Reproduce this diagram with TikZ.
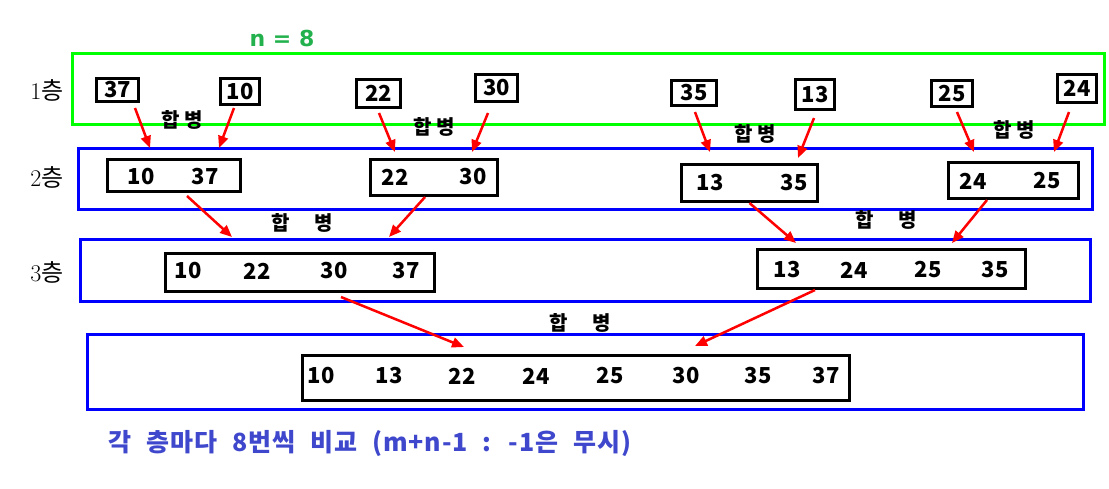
\documentclass[tikz,border=0pt]{standalone}
\usepackage{fontspec}
\newfontfamily\kr{Noto Sans CJK KR}
\newfontfamily\krwide[LetterSpace=4,WordSpace=2.2]{Noto Sans CJK KR}
\newfontfamily\dvs{DejaVu Sans}
\usetikzlibrary{arrows.meta}
\definecolor{paintgreen}{RGB}{34,177,76}
\definecolor{paintindigo}{RGB}{63,72,204}
\tikzset{
  layerbox/.style={draw=blue,line width=3pt,inner sep=0pt},
  numbox/.style={draw=black,line width=3pt,inner sep=0pt,
    font=\kr\bfseries\fontsize{22}{22}\selectfont},
  num/.style={inner sep=0pt,font=\kr\bfseries\fontsize{22}{22}\selectfont},
  mergelabel/.style={inner sep=0pt,font=\kr\bfseries\fontsize{20}{20}\selectfont},
  layerlabel/.style={inner sep=0pt,font=\fontsize{24}{24}\selectfont},
  mergearrow/.style={draw=red,line width=2.5pt,-{Triangle[length=12pt,width=10pt]}}
}
\begin{document}
\begin{tikzpicture}[x=1pt,y=-1pt]
\useasboundingbox (0,0) rectangle (1109,488);

% layers
\node[draw=green,line width=3pt,minimum width=1032pt,minimum height=71pt] (layer1) at (588.5,89) {};
\node[layerbox,minimum width=1014pt,minimum height=61pt] (layer2) at (585.5,179) {};
\node[layerbox,minimum width=1010pt,minimum height=62pt] (layer3) at (585.5,270.5) {};
\node[layerbox,minimum width=996pt,minimum height=75pt] (layer4) at (585.5,372) {};

\node[inner sep=0pt,text=paintgreen,font=\dvs\bfseries\fontsize{22}{22}\selectfont] (title) at (282,38) {n = 8};
\node[layerlabel] (lab1) at (47,90) {1{\kr 층}};
\node[layerlabel] (lab2) at (47,177) {2{\kr 층}};
\node[layerlabel] (lab3) at (47,272) {3{\kr 층}};

% layer 1
\foreach \name/\x/\y/\w/\h/\v in {a37/117.5/90/42/23/37, a10/240/91.5/39/26/10,
    a22/378.5/93.5/44/28/22, a30/496.5/88/42/27/30, a35/694/93/45/25/35,
    a13/815/94.5/39/30/13, a25/952/93.5/41/26/25, a24/1077/88.5/39/28/24}
  \node[numbox,minimum width=\w pt,minimum height=\h pt] (\name) at (\x,\y) {\v};

% layer 2
\node[numbox,minimum width=133pt,minimum height=32pt] (b1) at (174,175.5) {};
\node[numbox,minimum width=127pt,minimum height=36pt] (b2) at (434,177.5) {};
\node[numbox,minimum width=136pt,minimum height=37pt] (b3) at (749.5,183) {};
\node[numbox,minimum width=130pt,minimum height=36pt] (b4) at (1013.5,180.5) {};
\foreach \i/\x/\y/\v in {1/141/177/10, 2/205/177/37, 3/395/177/22, 4/473/177/30,
    5/710/183/13, 6/794/183/35, 7/973/181/24, 8/1047/181/25}
  \node[num] (bn\i) at (\x,\y) {\v};

% layer 3
\node[numbox,minimum width=269pt,minimum height=38pt] (c1) at (300,272.5) {};
\node[numbox,minimum width=268pt,minimum height=39pt] (c2) at (891.5,269) {};
\foreach \i/\x/\y/\v in {1/188/271/10, 2/257/271/22, 3/334/271/30, 4/406/271/37,
    5/787/270/13, 6/854/270/24, 7/928/270/25, 8/995/270/35}
  \node[num] (cn\i) at (\x,\y) {\v};

% layer 4
\node[numbox,minimum width=547pt,minimum height=45pt] (d) at (576,378) {};
\foreach \i/\x/\v in {1/321/10, 2/389/13, 3/462/22, 4/536/24,
    5/610/25, 6/686/30, 7/758/35, 8/826/37}
  \node[num] (dn\i) at (\x,376) {\v};

% merge labels
\node[mergelabel] (m1) at (182,120) {합 병};
\node[mergelabel] (m2) at (434,127) {합 병};
\node[mergelabel] (m3) at (755,134) {합 병};
\node[mergelabel] (m4) at (1014,130) {합 병};
\node[mergelabel] (m5) at (302,223) {합\hspace{25pt}병};
\node[mergelabel] (m6) at (886,220) {합\hspace{25pt}병};
\node[mergelabel] (m7) at (580,323) {합\hspace{25pt}병};

% arrows
\draw[mergearrow] ([shift={(17.5,5)}]a37.south) -- ([shift={(-24,-10)}]b1.north);
\draw[mergearrow] ([shift={(-6,2)}]a10.south) -- ([shift={(45,-10)}]b1.north);
\draw[mergearrow] ([shift={(0.5,4)}]a22.south) -- ([shift={(-39,-6)}]b2.north);
\draw[mergearrow] ([shift={(-8.5,10)}]a30.south) -- ([shift={(38,-6)}]b2.north);
\draw[mergearrow] ([shift={(1,5)}]a35.south) -- ([shift={(-39.5,-11)}]b3.north);
\draw[mergearrow] ([shift={(-1,7)}]a13.south) -- ([shift={(48.5,-5)}]b3.north);
\draw[mergearrow] ([shift={(5,4)}]a25.south) -- ([shift={(-39.5,-9)}]b4.north);
\draw[mergearrow] ([shift={(-8,8)}]a24.south) -- ([shift={(40.5,-9)}]b4.north);
\draw[mergearrow] ([shift={(13,3)}]b1.south) -- ([shift={(-68,-15)}]c1.north);
\draw[mergearrow] ([shift={(-9,0)}]b2.south) -- ([shift={(89,-15)}]c1.north);
\draw[mergearrow] (b3.south) -- ([shift={(-95.5,-5)}]c2.north);
\draw[mergearrow] ([shift={(-26.5,0)}]b4.south) -- ([shift={(60.5,-5)}]c2.north);
\draw[mergearrow] ([shift={(41,4)}]c1.south) -- ([shift={(-112,-7)}]d.north);
\draw[mergearrow] ([shift={(-76.5,0)}]c2.south) -- ([shift={(119,-8)}]d.north);

\node[inner sep=0pt,text=paintindigo,font=\krwide\bfseries\fontsize{25}{25}\selectfont] (note) at (370,443) {각 층마다 8번씩 비교 (m+n-1 : -1은 무시)};
\end{tikzpicture}
\end{document}
